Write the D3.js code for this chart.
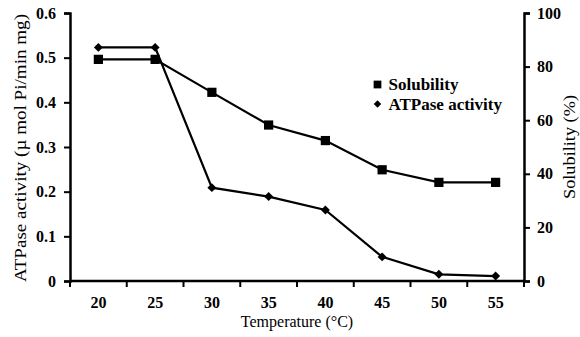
<!DOCTYPE html>
<html>
<head>
<meta charset="utf-8">
<script src="https://cdn.jsdelivr.net/npm/d3@7"></script>
<style>
  body { margin: 0; background: #fff; overflow: hidden; }
  svg { display: block; }
  text { font-family: "Liberation Serif", "Times New Roman", serif; }
</style>
</head>
<body>
<svg id="chart" width="580" height="337"></svg>
<script>
const temps = ['20', '25', '30', '35', '40', '45', '50', '55'];
const atpase = [0.523, 0.523, 0.209, 0.189, 0.159, 0.054, 0.015, 0.011];
const solubility = [82.7, 82.7, 70.4, 58.2, 52.4, 41.5, 36.8, 36.8];
const leftTicks = [0, 0.1, 0.2, 0.3, 0.4, 0.5, 0.6];
const rightTicks = [0, 20, 40, 60, 80, 100];

const svg = d3.select('#chart');
const margin = { top: 13, right: 56, bottom: 56, left: 70 };
const width = +svg.attr('width');
const height = +svg.attr('height');
const innerWidth = width - margin.left - margin.right;
const innerHeight = height - margin.top - margin.bottom;

const g = svg.append('g')
  .attr('transform', `translate(${margin.left}, ${margin.top})`);

const xScale = d3.scaleBand()
  .domain(temps)
  .range([0, innerWidth]);

const yLeft = d3.scaleLinear()
  .domain([0, 0.6])
  .range([innerHeight, 0]);

const yRight = d3.scaleLinear()
  .domain([0, 100])
  .range([innerHeight, 0]);

const axisStyle = AxisG => {
  AxisG.select('.domain').attr('stroke-width', 2.5);
  AxisG.selectAll('line').attr('stroke-width', 2);
  AxisG.selectAll('text')
    .attr('font-size', 16)
    .attr('font-weight', 'bold')
    .attr('font-family', '"Liberation Serif", serif')
    .attr('fill', '#000');
};

// left axis
g.append('g')
  .call(d3.axisLeft(yLeft).tickValues(leftTicks).tickSize(6).tickPadding(8)
    .tickFormat(d => d === 0 ? '0' : d3.format('.1f')(d)))
  .call(axisStyle);

// right axis
g.append('g')
  .attr('transform', `translate(${innerWidth}, 0)`)
  .call(d3.axisRight(yRight).tickValues(rightTicks).tickSize(6).tickPadding(7))
  .call(axisStyle);

// x axis: ticks at band boundaries, labels centred in bands
const xAxisG = g.append('g')
  .attr('transform', `translate(0, ${innerHeight})`);
xAxisG.append('line')
  .attr('x1', 0).attr('x2', innerWidth)
  .attr('stroke', '#000').attr('stroke-width', 2.5);
xAxisG.selectAll('.xtick').data(d3.range(temps.length + 1))
  .enter().append('line')
    .attr('class', 'xtick')
    .attr('x1', i => i * xScale.step())
    .attr('x2', i => i * xScale.step())
    .attr('y1', 0).attr('y2', 6)
    .attr('stroke', '#000').attr('stroke-width', 2);
xAxisG.selectAll('.xlabel').data(temps)
  .enter().append('text')
    .attr('class', 'xlabel')
    .attr('x', d => xScale(d) + xScale.bandwidth() / 2)
    .attr('y', 27)
    .attr('text-anchor', 'middle')
    .attr('font-size', 16)
    .attr('font-weight', 'bold')
    .text(d => d);

const cx = d => xScale(d) + xScale.bandwidth() / 2;

const line = d3.line().x(d => cx(d[0]));

// solubility (right axis)
const solData = temps.map((t, i) => [t, solubility[i]]);
g.append('path')
  .attr('d', line.y(d => yRight(d[1]))(solData))
  .attr('fill', 'none').attr('stroke', '#000').attr('stroke-width', 2.2);
g.selectAll('.sq').data(solData)
  .enter().append('path')
    .attr('class', 'sq')
    .attr('transform', d => `translate(${cx(d[0])}, ${yRight(d[1])})`)
    .attr('d', d3.symbol(d3.symbolSquare, 85)());

// ATPase (left axis)
const atpData = temps.map((t, i) => [t, atpase[i]]);
g.append('path')
  .attr('d', line.y(d => yLeft(d[1]))(atpData))
  .attr('fill', 'none').attr('stroke', '#000').attr('stroke-width', 2.2);
g.selectAll('.dm').data(atpData)
  .enter().append('path')
    .attr('class', 'dm')
    .attr('transform', d => `translate(${cx(d[0])}, ${yLeft(d[1])}) rotate(45)`)
    .attr('d', d3.symbol(d3.symbolSquare, 40)());

// legend
const legend = g.append('g').attr('transform', 'translate(307.5, 71.5)');
legend.append('path')
  .attr('d', d3.symbol(d3.symbolSquare, 60)());
legend.append('text')
  .attr('x', 11).attr('y', 5.5)
  .attr('font-size', 17).attr('font-weight', 'bold')
  .text('Solubility');
legend.append('path')
  .attr('transform', 'translate(0, 19.5) rotate(45)')
  .attr('d', d3.symbol(d3.symbolSquare, 28)());
legend.append('text')
  .attr('x', 11).attr('y', 25)
  .attr('font-size', 17).attr('font-weight', 'bold')
  .text('ATPase activity');

// axis titles
svg.append('text')
  .attr('x', margin.left + innerWidth / 2)
  .attr('y', 327)
  .attr('text-anchor', 'middle')
  .attr('font-size', 16)
  .text('Temperature (°C)');

svg.append('text')
  .attr('transform', `translate(26, ${margin.top + innerHeight / 2 + 1}) rotate(-90)`)
  .attr('text-anchor', 'middle')
  .attr('font-size', 16)
  .attr('textLength', 268)
  .attr('lengthAdjust', 'spacingAndGlyphs')
  .text('ATPase activity (µ mol Pi/min mg)');

svg.append('text')
  .attr('transform', `translate(575, ${margin.top + innerHeight / 2}) rotate(-90)`)
  .attr('text-anchor', 'middle')
  .attr('font-size', 16)
  .attr('textLength', 104)
  .attr('lengthAdjust', 'spacingAndGlyphs')
  .text('Solubility (%)');
</script>
</body>
</html>
